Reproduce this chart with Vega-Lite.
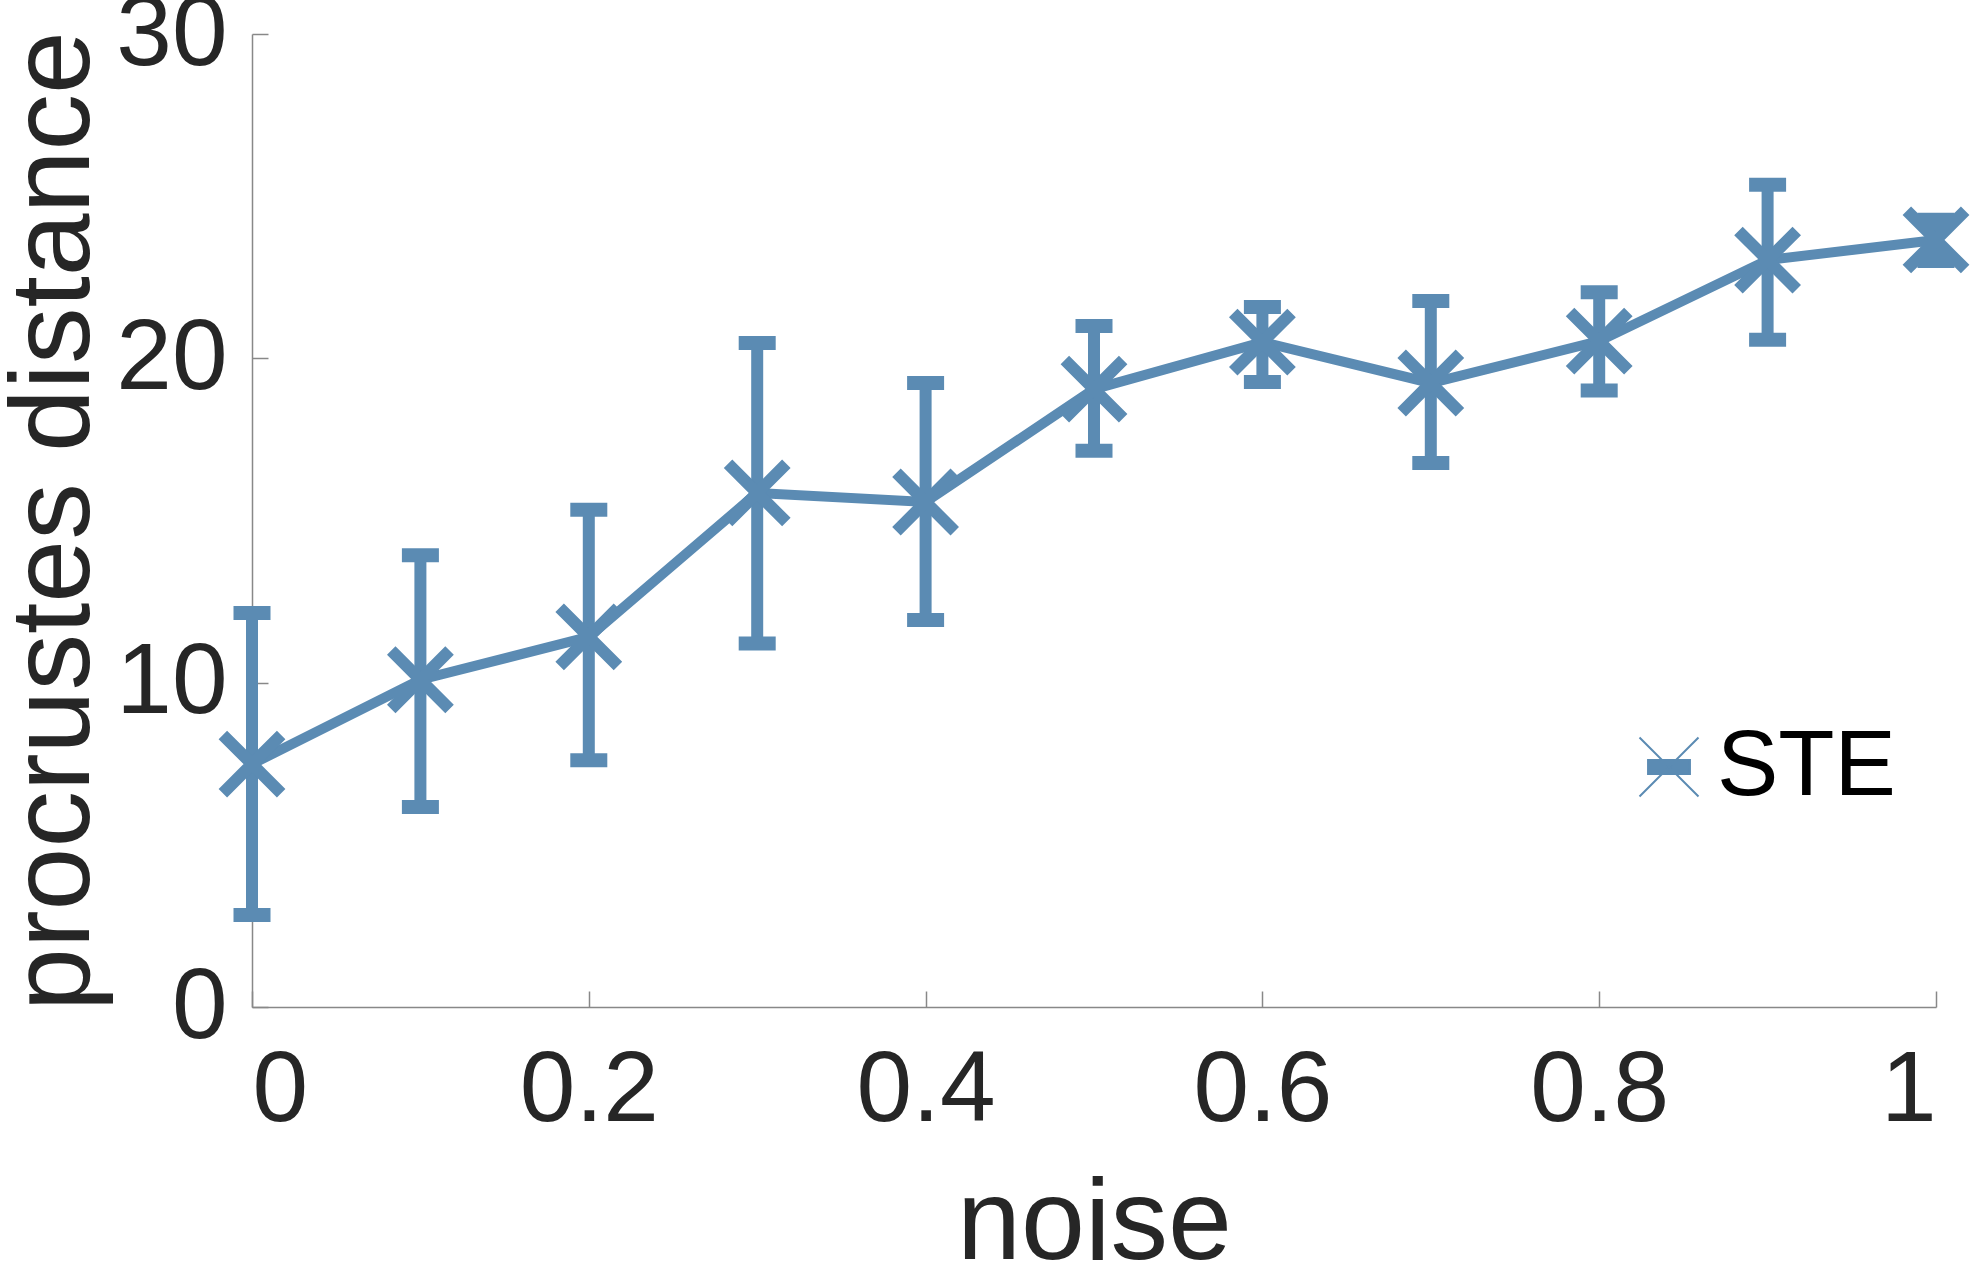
{
  "$schema": "https://vega.github.io/schema/vega-lite/v6.json",
  "autosize": {"type": "none"},
  "width": 1684,
  "height": 973,
  "padding": {"left": 252, "top": 34, "right": 38, "bottom": 260},
  "background": "white",
  "data": {
    "values": [
      {"noise": 0.0, "dist": 7.49, "lo": 2.84, "hi": 12.15, "series": "STE"},
      {"noise": 0.1, "dist": 10.09, "lo": 6.17, "hi": 13.93, "series": "STE"},
      {"noise": 0.2, "dist": 11.41, "lo": 7.61, "hi": 15.33, "series": "STE"},
      {"noise": 0.3, "dist": 15.85, "lo": 11.21, "hi": 20.47, "series": "STE"},
      {"noise": 0.4, "dist": 15.57, "lo": 11.93, "hi": 19.24, "series": "STE"},
      {"noise": 0.5, "dist": 19.05, "lo": 17.15, "hi": 21.0, "series": "STE"},
      {"noise": 0.6, "dist": 20.5, "lo": 19.27, "hi": 21.58, "series": "STE"},
      {"noise": 0.7, "dist": 19.24, "lo": 16.77, "hi": 21.77, "series": "STE"},
      {"noise": 0.8, "dist": 20.53, "lo": 19.01, "hi": 22.04, "series": "STE"},
      {"noise": 0.9, "dist": 23.03, "lo": 20.57, "hi": 25.35, "series": "STE"},
      {"noise": 1.0, "dist": 23.65, "lo": 23.0, "hi": 24.27, "series": "STE"}
    ]
  },
  "encoding": {
    "x": {
      "field": "noise",
      "type": "quantitative",
      "scale": {"domain": [0, 1], "nice": false, "zero": false},
      "axis": {
        "title": "noise",
        "values": [0, 0.2, 0.4, 0.6, 0.8, 1],
        "format": "~g",
        "grid": false,
        "tickSize": -16,
        "labelPadding": 50,
        "titlePadding": 27
      }
    }
  },
  "layer": [
    {
      "mark": {"type": "rule", "strokeWidth": 12, "color": "#5B8BB3"},
      "encoding": {
        "y": {
          "field": "lo",
          "type": "quantitative",
          "scale": {"domain": [0, 30], "nice": false},
          "axis": {
            "title": "procrustes distance",
            "values": [0, 10, 20, 30],
            "grid": false,
            "tickSize": -16,
            "labelPadding": 41,
            "titlePadding": 3,
            "titleFontSize": 113
          }
        },
        "y2": {"field": "hi"}
      }
    },
    {
      "mark": {"type": "tick", "orient": "horizontal", "size": 37, "thickness": 14, "color": "#5B8BB3", "opacity": 1},
      "encoding": {"y": {"field": "lo", "type": "quantitative"}}
    },
    {
      "mark": {"type": "tick", "orient": "horizontal", "size": 37, "thickness": 14, "color": "#5B8BB3", "opacity": 1},
      "encoding": {"y": {"field": "hi", "type": "quantitative"}}
    },
    {
      "mark": {"type": "line", "strokeWidth": 10, "color": "#5B8BB3"},
      "encoding": {"y": {"field": "dist", "type": "quantitative"}}
    },
    {
      "mark": {
        "type": "point",
        "shape": "M-1,-1L1,1M-1,1L1,-1",
        "filled": true,
        "stroke": "#5B8BB3",
        "strokeWidth": 12,
        "size": 3400,
        "opacity": 1
      },
      "encoding": {
        "y": {"field": "dist", "type": "quantitative"},
        "color": {
          "field": "series",
          "type": "nominal",
          "scale": {"domain": ["STE"], "range": ["#5B8BB3"]},
          "legend": {
            "title": null,
            "orient": "none",
            "legendX": 1371,
            "legendY": 687,
            "padding": 0,
            "symbolType": "M-1,-1L1,1M-1,1L1,-1M-0.71,-0.24L0.71,-0.24L0.71,0.24L-0.71,0.24Z",
            "symbolSize": 3480,
            "symbolStrokeWidth": 2,
            "symbolFillColor": "#5B8BB3",
            "symbolStrokeColor": "#5B8BB3",
            "labelFont": "Liberation Sans",
            "labelFontSize": 92,
            "labelColor": "#000000",
            "labelOffset": 2,
            "labelLimit": 0,
            "encode": {
              "symbols": {
                "update": {
                  "fill": {"value": "#5B8BB3"},
                  "stroke": {"value": "#5B8BB3"},
                  "strokeWidth": {"value": 2},
                  "size": {"value": 3480},
                  "opacity": {"value": 1}
                }
              }
            }
          }
        }
      }
    }
  ],
  "config": {
    "view": {"stroke": null},
    "axis": {
      "domainColor": "#888888",
      "domainWidth": 1.5,
      "tickColor": "#888888",
      "tickWidth": 1.5,
      "labelFont": "Liberation Sans",
      "labelFontSize": 100,
      "labelColor": "#262626",
      "titleFont": "Liberation Sans",
      "titleFontSize": 115,
      "titleFontWeight": "normal",
      "titleColor": "#262626"
    }
  }
}
